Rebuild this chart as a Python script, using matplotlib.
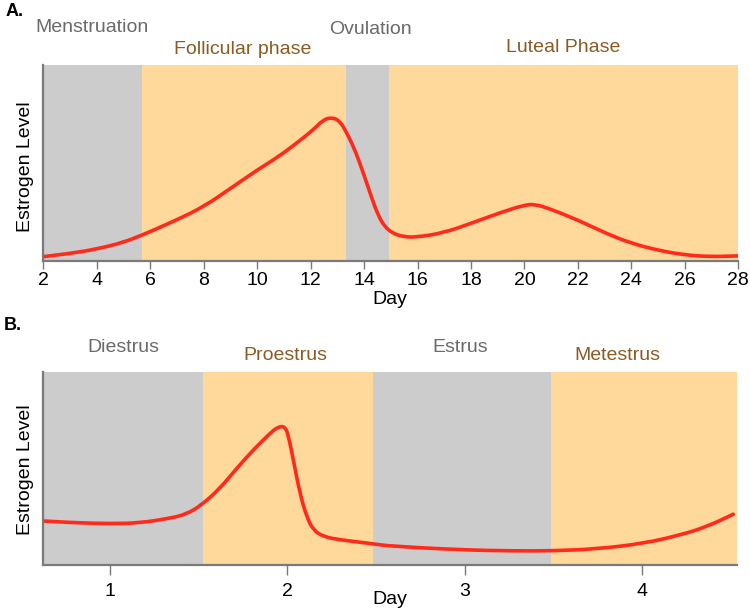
import matplotlib
matplotlib.use("Agg")
import matplotlib.pyplot as plt
from matplotlib.path import Path
from matplotlib.patches import PathPatch

# ---------------- data ----------------
# Panel A: human menstrual cycle (estrogen level, 0..1 of the axis height)
day_a = [2.0, 3.0, 4.0, 5.0, 5.7, 6.0, 7.0, 8.0, 9.0, 10.0, 10.84, 11.46, 12.09, 12.46,
         12.77, 13.09, 13.4, 13.71, 14.02, 14.27, 14.52, 14.77, 15.08, 15.46, 15.96,
         16.98, 18.0, 19.1, 20.0, 20.4, 20.9, 22.0, 23.05, 24.0, 25.05, 26.0, 26.9, 28.0]
level_a = [0.022, 0.038, 0.061, 0.095, 0.133, 0.15, 0.21, 0.277, 0.37, 0.464, 0.536,
           0.600, 0.668, 0.719, 0.733, 0.716, 0.643, 0.549, 0.430, 0.328, 0.235, 0.175,
           0.141, 0.124, 0.121, 0.144, 0.192, 0.247, 0.286, 0.289, 0.269, 0.209, 0.141,
           0.09, 0.053, 0.031, 0.022, 0.026]
phases_a = ["Menstruation", "Follicular phase", "Ovulation", "Luteal Phase"]
bounds_a = [2.0, 5.7, 13.33, 14.95, 28.0]
ticks_a = [2, 4, 6, 8, 10, 12, 14, 16, 18, 20, 22, 24, 26, 28]

# Panel B: rodent estrous cycle
day_b = [0.622, 0.794, 1.007, 1.17, 1.339, 1.433, 1.517, 1.621, 1.715, 1.808, 1.902,
         1.949, 1.987, 2.005, 2.034, 2.071, 2.109, 2.146, 2.203, 2.297, 2.484, 2.574,
         2.988, 3.273, 3.484, 3.743, 4.009, 4.212, 4.362, 4.512]
level_b = [0.228, 0.219, 0.214, 0.218, 0.242, 0.264, 0.311, 0.397, 0.501, 0.596, 0.682,
           0.717, 0.717, 0.674, 0.544, 0.371, 0.250, 0.181, 0.147, 0.130, 0.11, 0.098,
           0.078, 0.073, 0.073, 0.083, 0.112, 0.155, 0.198, 0.263]
phases_b = ["Diestrus", "Proestrus", "Estrus", "Metestrus"]
bounds_b = [0.622, 1.523, 2.481, 3.484, 4.533]
ticks_b = [1, 2, 3, 4]

# ---------------- style ----------------
GRAY = "#cccccc"
ORANGE = "#ffd89b"
RED = "#ff2a1a"
TXT_GRAY = "#6a6a6a"
TXT_BROWN = "#8c5a22"
SPINE = "#7a7a7a"
FONT = ["Liberation Sans", "DejaVu Sans"]

plt.rcParams["font.family"] = FONT

W, H = 750, 612
fig = plt.figure(figsize=(W / 100, H / 100), dpi=100)


def px_axes(l, t, r, b):
    return fig.add_axes([l / W, 1 - b / H, (r - l) / W, (b - t) / H])


def style_axes(ax, ticks, tick_len, pad):
    for s in ["top", "right"]:
        ax.spines[s].set_visible(False)
    for s in ["left", "bottom"]:
        ax.spines[s].set_color(SPINE)
        ax.spines[s].set_linewidth(1.6)
        ax.spines[s].set_zorder(5)
    ax.set_yticks([])
    ax.set_xticks(ticks)
    ax.set_xticklabels([str(t) for t in ticks], fontsize=14)
    ax.tick_params(axis="x", length=tick_len, width=1, color=SPINE, pad=pad,
                   direction="out")


def shade(ax, bounds):
    cols = [GRAY, ORANGE, GRAY, ORANGE]
    for i in range(len(bounds) - 1):
        ax.axvspan(bounds[i], bounds[i + 1], color=cols[i], lw=0, zorder=0)


def smooth_curve(ax, xs, ys):
    # quadratic Bezier rendering through the read points (corner smoothing only)
    pts = list(zip(xs, ys))
    verts = [pts[0]]
    codes = [Path.MOVETO]
    for i in range(1, len(pts) - 1):
        mid = ((pts[i][0] + pts[i + 1][0]) / 2, (pts[i][1] + pts[i + 1][1]) / 2)
        verts += [pts[i], mid]
        codes += [Path.CURVE3, Path.CURVE3]
    verts.append(pts[-1])
    codes.append(Path.LINETO)
    patch = PathPatch(Path(verts, codes), fill=False, edgecolor=RED, lw=2.6,
                      capstyle="round", joinstyle="round", zorder=3)
    ax.add_patch(patch)


# ---- Panel A ----
axA = px_axes(43.3, 65, 738.3, 261)
shade(axA, bounds_a)
smooth_curve(axA, day_a, level_a)
axA.set_xlim(bounds_a[0], bounds_a[-1])
axA.set_ylim(0, 1)
style_axes(axA, ticks_a, 6, 2)

# ---- Panel B ----
axB = px_axes(42.7, 372, 737, 565)
shade(axB, bounds_b)
smooth_curve(axB, day_b, level_b)
axB.set_xlim(bounds_b[0], bounds_b[-1])
axB.set_ylim(0, 1)
style_axes(axB, ticks_b, 7, 6)


def ftext(x, y, s, **kw):
    fig.text(x / W, 1 - y / H, s, ha="center", va="center", **kw)


# panel letters
ftext(15, 12, "A.", fontsize=13, fontweight="bold", color="black")
ftext(13, 325, "B.", fontsize=13, fontweight="bold", color="black")

# phase labels A
ftext(92, 27, phases_a[0], fontsize=14, color=TXT_GRAY)
ftext(243, 49, phases_a[1], fontsize=14, color=TXT_BROWN)
ftext(370, 30, phases_a[2], fontsize=14, color=TXT_GRAY)
ftext(563, 48, phases_a[3], fontsize=14, color=TXT_BROWN)

# phase labels B
ftext(123, 348, phases_b[0], fontsize=14, color=TXT_GRAY)
ftext(285, 355, phases_b[1], fontsize=14, color=TXT_BROWN)
ftext(460, 348, phases_b[2], fontsize=14, color=TXT_GRAY)
ftext(617, 355, phases_b[3], fontsize=14, color=TXT_BROWN)

# axis labels
ftext(25, 167, "Estrogen Level", fontsize=14, rotation=90, color="black")
ftext(25, 470, "Estrogen Level", fontsize=14, rotation=90, color="black")
ftext(390, 299, "Day", fontsize=14, color="black")
ftext(390, 600, "Day", fontsize=14, color="black")

fig.savefig("out.png", dpi=100)
